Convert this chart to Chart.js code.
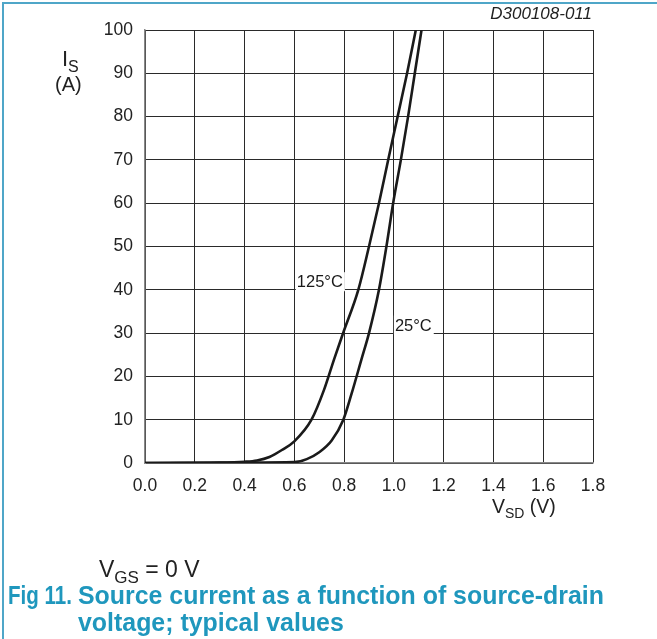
<!DOCTYPE html>
<html>
<head>
<meta charset="utf-8">
<script src="https://cdn.jsdelivr.net/npm/chart.js@4/dist/chart.umd.min.js"></script>
<style>
  html, body { margin: 0; padding: 0; background: #fff; }
  #wrap { width: 657px; height: 639px; position: relative; }
</style>
</head>
<body>
<div id="wrap"><canvas id="chart" width="657" height="639"></canvas></div>
<script>
// Values (V_SD in volts, I_S in amperes)
const vsd125 = [0.0, 0.30, 0.40, 0.45, 0.50, 0.55, 0.60, 0.669, 0.72, 0.76, 0.796, 0.857, 0.90, 0.94, 0.977, 1.015, 1.053, 1.088];
const is125  = [0.0, 0.1,  0.3,  0.6,  1.4,  3.0,  5.0,  10,    17,   24,   30,    40,    50,   60,   70,    80,    90,    100];
const vsd25  = [0.0, 0.40, 0.60, 0.65, 0.70, 0.75, 0.797, 0.83, 0.87, 0.90, 0.94, 0.97, 0.997, 1.028, 1.057, 1.084, 1.111];
const is25   = [0.0, 0.1,  0.2,  0.9,  2.5,  5.2,  10,    16,   24,   30,   40,   50,   60,    70,    80,    90,    100];

const xTicks = [0.0, 0.2, 0.4, 0.6, 0.8, 1.0, 1.2, 1.4, 1.6, 1.8];
const yTicks = [0, 10, 20, 30, 40, 50, 60, 70, 80, 90, 100];

// curve labels: text and the data point they sit at (left edge, baseline)
const curveLabels = [
  { text: "125°C", x: 0.61, y: 40.6 },
  { text: "25°C", x: 1.004, y: 30.6 }
];

const FONT = "Liberation Sans, Arial, sans-serif";
const TEAL = "#1f97bd";

function toPoints(xs, ys) {
  return xs.map((x, i) => ({ x: x, y: ys[i] }));
}

// text with a subscript part, drawn from left x
function subText(ctx, x, y, main, sub, after, size) {
  ctx.font = size + "px " + FONT;
  ctx.fillText(main, x, y);
  let w = ctx.measureText(main).width;
  ctx.font = Math.round(size * 0.72) + "px " + FONT;
  ctx.fillText(sub, x + w, y + size * 0.28);
  w += ctx.measureText(sub).width;
  ctx.font = size + "px " + FONT;
  ctx.fillText(after, x + w, y);
}

// text squeezed horizontally by factor k (condensed look)
function narrowText(ctx, text, x, y, k) {
  ctx.save();
  ctx.translate(x, y);
  ctx.scale(k, 1);
  ctx.fillText(text, 0, 0);
  ctx.restore();
}

const extras = {
  id: "extras",
  afterDraw(chart) {
    const ctx = chart.ctx;
    const xs = chart.scales.x;
    const ys = chart.scales.y;
    ctx.save();

    // page frame lines
    ctx.strokeStyle = "#4fa6c8";
    ctx.lineWidth = 2;
    ctx.beginPath();
    ctx.moveTo(3, 639);
    ctx.lineTo(3, 3);
    ctx.lineTo(657, 3);
    ctx.stroke();

    // curve labels with white boxes
    ctx.font = "16.5px " + FONT;
    ctx.textBaseline = "alphabetic";
    ctx.textAlign = "left";
    curveLabels.forEach(l => {
      const px = xs.getPixelForValue(l.x);
      const py = ys.getPixelForValue(l.y);
      const w = ctx.measureText(l.text).width;
      ctx.fillStyle = "#fff";
      ctx.fillRect(px - 1, py - 15, w + 3, 19);
      ctx.fillStyle = "#1a1a1a";
      ctx.fillText(l.text, px, py);
    });

    ctx.fillStyle = "#222";
    // drawing number
    ctx.font = "italic 17px " + FONT;
    ctx.textAlign = "right";
    ctx.fillText("D300108-011", 592, 19);

    // y axis title
    ctx.textAlign = "left";
    subText(ctx, 62, 66, "I", "S", "", 22);
    ctx.font = "20px " + FONT;
    ctx.fillText("(A)", 55, 91);

    // x axis title
    subText(ctx, 492, 513, "V", "SD", " (V)", 19.5);

    // condition
    subText(ctx, 99, 577, "V", "GS", " = 0 V", 23);

    // caption, condensed bold
    ctx.fillStyle = TEAL;
    ctx.font = "bold 25px " + FONT;
    const line1 = "Source current as a function of source-drain";
    const k = 526 / ctx.measureText(line1).width;
    const kFig = 64 / ctx.measureText("Fig 11.").width;
    narrowText(ctx, "Fig 11.", 8, 604, kFig);
    narrowText(ctx, line1, 78, 604, k);
    narrowText(ctx, "voltage; typical values", 78, 631, k);

    ctx.restore();
  }
};

new Chart(document.getElementById("chart"), {
  type: "line",
  data: {
    datasets: [
      {
        label: "125°C",
        data: toPoints(vsd125, is125),
        borderColor: "#1a1a1a",
        borderWidth: 2.6,
        pointRadius: 0,
        cubicInterpolationMode: "monotone",
        fill: false
      },
      {
        label: "25°C",
        data: toPoints(vsd25, is25),
        borderColor: "#1a1a1a",
        borderWidth: 2.6,
        pointRadius: 0,
        cubicInterpolationMode: "monotone",
        fill: false
      }
    ]
  },
  options: {
    responsive: false,
    animation: false,
    events: [],
    layout: { padding: { left: 0, top: 30, right: 64, bottom: 0 } },
    plugins: {
      legend: { display: false },
      tooltip: { enabled: false }
    },
    scales: {
      x: {
        type: "linear",
        min: 0,
        max: 1.8,
        afterBuildTicks: s => { s.ticks = xTicks.map(v => ({ value: v })); },
        afterFit: s => { s.height = 176; },
        grid: { color: "#2a2a2a", lineWidth: 1, drawTicks: false },
        border: { color: "#888", width: 1.5 },
        ticks: {
          color: "#222",
          padding: 13,
          font: { family: FONT, size: 17.5 },
          maxRotation: 0,
          callback: v => v.toFixed(1)
        }
      },
      y: {
        type: "linear",
        min: 0,
        max: 100,
        afterBuildTicks: s => { s.ticks = yTicks.map(v => ({ value: v })); },
        afterFit: s => { s.width = 145; },
        grid: { color: "#2a2a2a", lineWidth: 1, drawTicks: false },
        border: { color: "#888", width: 1.5 },
        ticks: {
          color: "#222",
          padding: 12,
          font: { family: FONT, size: 17.5 },
          callback: v => String(v)
        }
      }
    }
  },
  plugins: [extras]
});
</script>
</body>
</html>
